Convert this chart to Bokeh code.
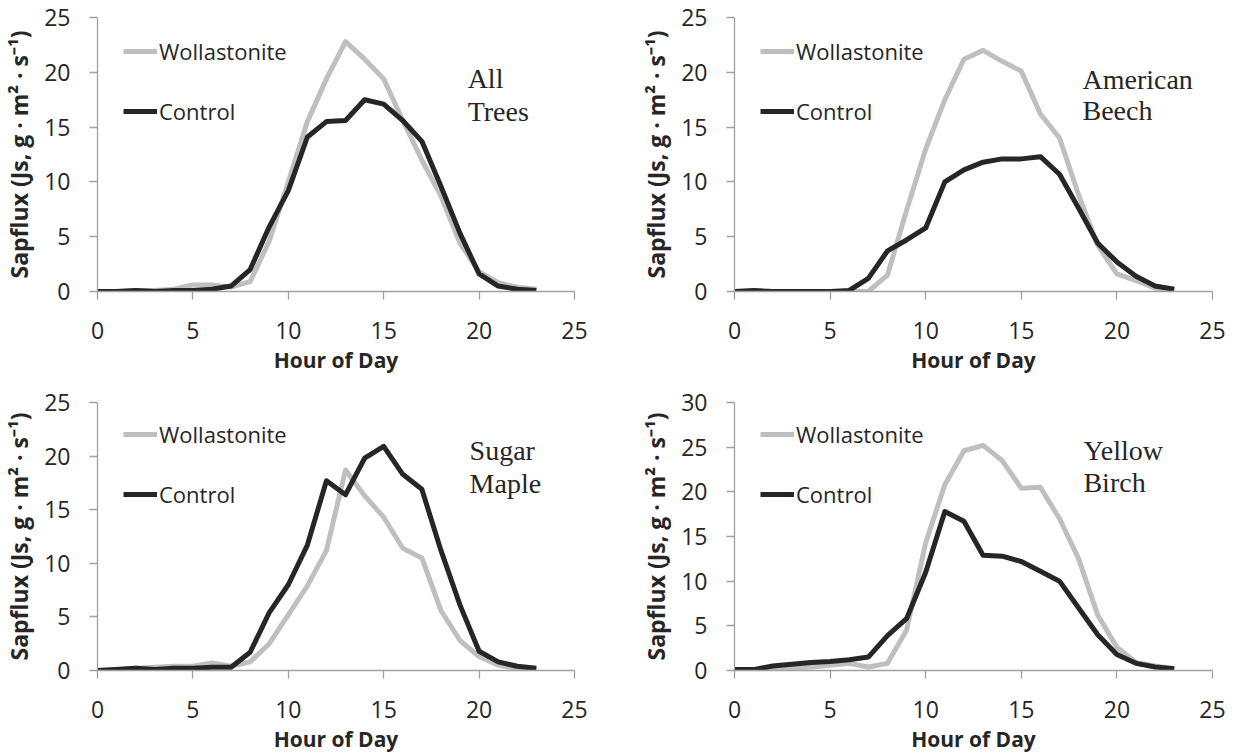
from bokeh.plotting import figure
from bokeh.models import Range1d, Legend, LegendItem, Label, FixedTicker
from bokeh.layouts import column, row
from bokeh.embed import file_html
from bokeh.resources import INLINE

hours = list(range(24))
x_ticks = [0, 5, 10, 15, 20, 25]

all_w = [0, 0, 0.1, 0.1, 0.2, 0.6, 0.6, 0.4, 0.9, 4.6, 10.0, 15.5, 19.4, 22.8, 21.2, 19.4, 15.6, 12.0, 8.7, 4.4, 1.8, 0.8, 0.4, 0.2]
all_c = [0, 0, 0.1, 0, 0.1, 0.1, 0.2, 0.5, 2.0, 5.9, 9.2, 14.1, 15.5, 15.6, 17.5, 17.1, 15.6, 13.7, 9.6, 5.3, 1.6, 0.5, 0.2, 0.1]

beech_w = [0, 0, 0, 0, 0, 0, 0, 0, 1.5, 7.4, 13.0, 17.5, 21.2, 22.0, 21.0, 20.1, 16.2, 14.0, 8.8, 4.2, 1.6, 1.0, 0.3, 0.2]
beech_c = [0, 0.1, 0, 0, 0, 0, 0.1, 1.2, 3.7, 4.7, 5.8, 10.0, 11.1, 11.8, 12.1, 12.1, 12.3, 10.7, 7.6, 4.4, 2.7, 1.4, 0.5, 0.2]

maple_w = [0, 0.1, 0.2, 0.3, 0.4, 0.4, 0.7, 0.4, 0.8, 2.5, 5.2, 7.9, 11.2, 18.7, 16.3, 14.3, 11.4, 10.5, 5.6, 2.8, 1.3, 0.5, 0.2, 0.1]
maple_c = [0, 0.1, 0.2, 0.1, 0.2, 0.2, 0.3, 0.3, 1.7, 5.4, 8.0, 11.7, 17.7, 16.4, 19.8, 20.9, 18.3, 16.9, 11.2, 6.1, 1.8, 0.8, 0.4, 0.2]

birch_w = [0, 0, 0.2, 0.3, 0.4, 0.6, 0.8, 0.4, 0.8, 4.5, 14.3, 20.8, 24.6, 25.2, 23.5, 20.4, 20.5, 17.0, 12.5, 6.2, 2.6, 0.9, 0.5, 0.2]
birch_c = [0.1, 0.1, 0.5, 0.7, 0.9, 1.0, 1.2, 1.5, 3.9, 5.8, 11.0, 17.8, 16.7, 12.9, 12.8, 12.2, 11.1, 10.0, 7.0, 4.0, 1.8, 0.8, 0.4, 0.2]

series_names = ["Wollastonite", "Control"]
panel_titles = [["All", "Trees"], ["American", "Beech"], ["Sugar", "Maple"], ["Yellow", "Birch"]]
y_maxes = [25, 25, 25, 30]
x_title = "Hour of Day"
y_title = "Sapflux (Js, g \u00b7 m\u00b2 \u00b7 s\u207b\u00b9)"

GRAY = "#BFBFBF"
DARK = "#262626"
AXIS = "#A0A0A0"
TXT = "#262626"
FONT = "Open Sans"


def make_panel(wvals, cvals, ymax, title_lines, width, height, bl, br, bt, bb,
               legend_y, tx, ty0, ty1):
    p = figure(width=width, height=height, output_backend="svg", toolbar_location=None,
               x_range=Range1d(0, 25), y_range=Range1d(0, ymax),
               min_border_left=bl, min_border_right=br, min_border_top=bt, min_border_bottom=bb)
    p.outline_line_color = None
    p.grid.visible = False
    p.background_fill_color = "white"
    p.border_fill_color = "white"

    rw = p.line(hours, wvals, line_color=GRAY, line_width=5, line_join="round")
    rc = p.line(hours, cvals, line_color=DARK, line_width=5, line_join="round")

    p.xaxis.ticker = FixedTicker(ticks=x_ticks)
    p.yaxis.ticker = FixedTicker(ticks=list(range(0, ymax + 1, 5)))
    for ax in (p.xaxis[0], p.yaxis[0]):
        ax.axis_line_color = AXIS
        ax.axis_line_width = 1.3
        ax.major_tick_line_color = AXIS
        ax.major_tick_line_width = 1.3
        ax.major_tick_in = 0
        ax.major_tick_out = 8
        ax.minor_tick_line_color = None
        ax.major_label_text_font = FONT
        ax.major_label_text_font_size = "23px"
        ax.major_label_text_color = TXT
        ax.axis_label_text_font = FONT
        ax.axis_label_text_font_style = "bold"
        ax.axis_label_text_color = TXT
    p.xaxis.axis_label = x_title
    p.xaxis.axis_label_text_font_size = "21px"
    p.xaxis.major_label_standoff = 22
    p.xaxis.axis_label_standoff = 4
    p.yaxis.axis_label = y_title
    p.yaxis.axis_label_text_font_size = "23px"
    p.yaxis.major_label_standoff = 19
    p.yaxis.axis_label_standoff = 6

    legend = Legend(items=[LegendItem(label=series_names[0], renderers=[rw]),
                           LegendItem(label=series_names[1], renderers=[rc])],
                    location=(26, legend_y), orientation="vertical",
                    glyph_width=34, glyph_height=30, label_height=30, label_width=20,
                    label_standoff=2, spacing=30, padding=0, margin=0,
                    border_line_color=None, background_fill_alpha=0,
                    label_text_font=FONT, label_text_font_size="22px",
                    label_text_color=TXT, label_text_baseline="middle")
    p.add_layout(legend)

    for txt, yy in zip(title_lines, (ty0, ty1)):
        p.add_layout(Label(x=tx, y=yy, text=txt,
                           text_font="Liberation Serif", text_font_size="28px",
                           text_color=TXT, text_baseline="middle", text_align="left"))
    return p


p1 = make_panel(all_w, all_c, y_maxes[0], panel_titles[0], 616, 376, 96, 42, 17, 85, 165, 19.4, 19.45, 16.4)
p2 = make_panel(beech_w, beech_c, y_maxes[1], panel_titles[1], 616, 376, 118, 20, 17, 85, 165, 18.2, 19.36, 16.47)
p3 = make_panel(maple_w, maple_c, y_maxes[2], panel_titles[2], 616, 379, 96, 42, 26, 85, 161, 19.5, 20.5, 17.4)
p4 = make_panel(birch_w, birch_c, y_maxes[3], panel_titles[3], 616, 379, 118, 20, 26, 85, 161, 18.25, 24.6, 21.0)

layout = column(row(p1, p2), row(p3, p4))

open("out.html", "w").write(file_html(layout, INLINE))
